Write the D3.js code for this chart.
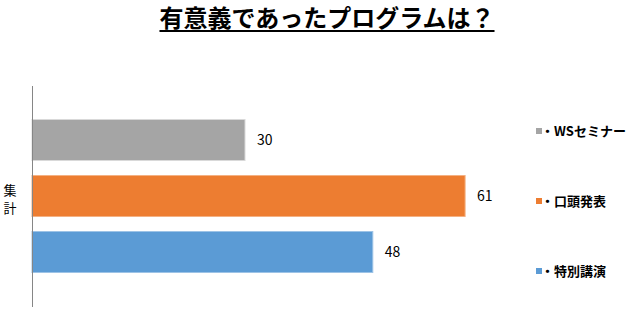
<!DOCTYPE html>
<html lang="ja">
<head>
<meta charset="utf-8">
<title>有意義であったプログラムは？</title>
<script src="https://cdn.jsdelivr.net/npm/d3@7"></script>
<style>
  body { margin: 0; background: #fff; }
  text { font-family: "Noto Sans CJK JP", sans-serif; }
</style>
</head>
<body>
<div id="chart"></div>
<script>
// data
var series = ["・WSセミナー", "・口頭発表", "・特別講演"];
var values = [30, 61, 48];
var colors = ["#A5A5A5", "#ED7D31", "#5B9BD5"];
var borders = ["#D9D9D9", "#F4B183", "#9DC3E6"];
var category = "集計";

var W = 626, H = 309;
var svg = d3.select("#chart").append("svg")
    .attr("width", W).attr("height", H);

// title
var title = svg.append("text")
    .attr("x", 327).attr("y", 27)
    .attr("text-anchor", "middle")
    .style("font-size", "24px")
    .style("font-weight", "bold")
    .text("有意義であったプログラムは？");
var bb = title.node().getBBox();
svg.append("line")
    .attr("x1", bb.x).attr("x2", bb.x + bb.width)
    .attr("y1", 31).attr("y2", 31)
    .attr("stroke", "#000").attr("stroke-width", 2);

var x = d3.scaleLinear().domain([0, 70]).range([32, 529]);
var y = d3.scaleBand().domain(series).range([112, 280])
    .paddingInner(0.268).paddingOuter(0.134);

// bars
svg.selectAll("rect.bar").data(series).enter().append("rect")
    .attr("class", "bar")
    .attr("x", x(0))
    .attr("y", function (d) { return y(d); })
    .attr("width", function (d, i) { return x(values[i]) - x(0); })
    .attr("height", y.bandwidth())
    .attr("fill", function (d, i) { return colors[i]; })
    .attr("stroke", function (d, i) { return borders[i]; })
    .attr("stroke-width", 1);

// value labels
svg.selectAll("text.val").data(series).enter().append("text")
    .attr("class", "val")
    .attr("x", function (d, i) { return x(values[i]) + 12; })
    .attr("y", function (d) { return y(d) + y.bandwidth() / 2 + 5; })
    .style("font-size", "14px")
    .text(function (d, i) { return values[i]; });

// axis line
svg.append("line")
    .attr("x1", 32.5).attr("x2", 32.5)
    .attr("y1", 86).attr("y2", 307)
    .attr("stroke", "#868686").attr("stroke-width", 1);

// category label (vertical)
svg.selectAll("text.cat").data(category.split("")).enter().append("text")
    .attr("class", "cat")
    .attr("x", 10).attr("y", function (d, i) { return 195 + i * 18; })
    .attr("text-anchor", "middle")
    .style("font-size", "13px")
    .text(function (d) { return d; });

// legend
var ly = d3.scalePoint().domain(series).range([131, 271]);
var lg = svg.selectAll("g.leg").data(series).enter().append("g")
    .attr("class", "leg")
    .attr("transform", function (d) { return "translate(536," + ly(d) + ")"; });
lg.append("rect")
    .attr("x", 0).attr("y", -3).attr("width", 6).attr("height", 6)
    .attr("fill", function (d, i) { return colors[i]; });
lg.append("text")
    .attr("x", 5).attr("y", 5)
    .style("font-size", "13px")
    .style("font-weight", "bold")
    .text(function (d) { return d; });
</script>
</body>
</html>
